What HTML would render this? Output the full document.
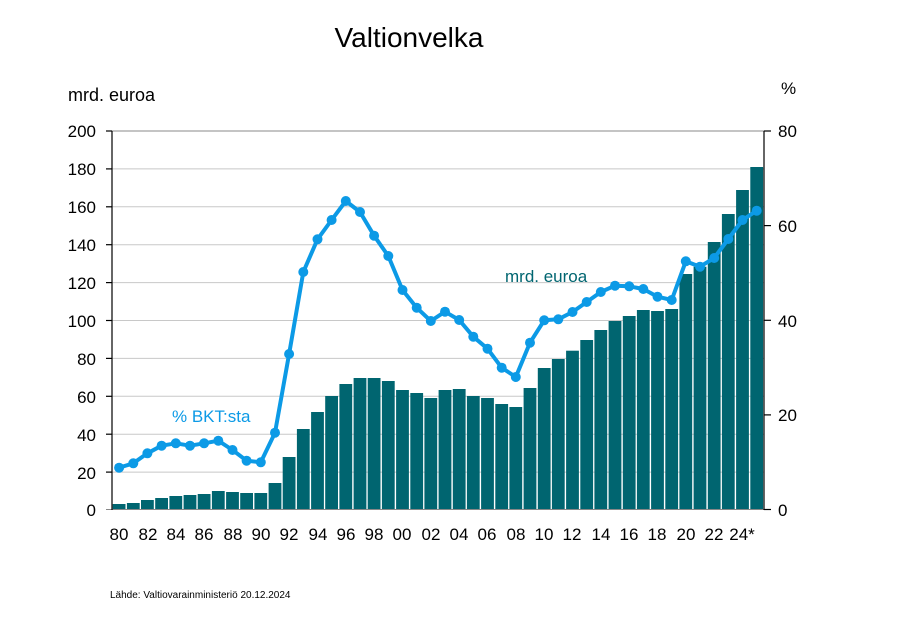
<!DOCTYPE html>
<html><head><meta charset="utf-8"><style>
html,body{margin:0;padding:0;background:#fff;}
svg text{font-family:"Liberation Sans",Arial,sans-serif;}
</style></head><body>
<svg width="899" height="612" viewBox="0 0 899 612" xmlns="http://www.w3.org/2000/svg">
<rect width="899" height="612" fill="#fff"/>
<text x="409" y="47" font-size="28" text-anchor="middle" fill="#000">Valtionvelka</text>
<text x="68" y="101" font-size="18" fill="#000">mrd. euroa</text>
<text x="781" y="94" font-size="17" fill="#000">%</text>
<g stroke="#c8c8c8" stroke-width="1">
<line x1="112" x2="764" y1="168.9" y2="168.9"/><line x1="112" x2="764" y1="206.8" y2="206.8"/>
<line x1="112" x2="764" y1="244.7" y2="244.7"/><line x1="112" x2="764" y1="282.6" y2="282.6"/>
<line x1="112" x2="764" y1="320.5" y2="320.5"/><line x1="112" x2="764" y1="358.4" y2="358.4"/>
<line x1="112" x2="764" y1="396.3" y2="396.3"/><line x1="112" x2="764" y1="434.2" y2="434.2"/>
<line x1="112" x2="764" y1="472.1" y2="472.1"/>
</g>
<line x1="112" x2="764" y1="131" y2="131" stroke="#888" stroke-width="1"/>
<g fill="#006570">
<rect x="112.7" y="504" width="12.8" height="5.5"/>
<rect x="126.9" y="503" width="12.8" height="6.5"/>
<rect x="141" y="500" width="12.8" height="9.5"/>
<rect x="155.2" y="498" width="12.8" height="11.5"/>
<rect x="169.4" y="496" width="12.8" height="13.5"/>
<rect x="183.6" y="495" width="12.8" height="14.5"/>
<rect x="197.7" y="494" width="12.8" height="15.5"/>
<rect x="211.9" y="491" width="12.8" height="18.5"/>
<rect x="226.1" y="492" width="12.8" height="17.5"/>
<rect x="240.2" y="493" width="12.8" height="16.5"/>
<rect x="254.4" y="493" width="12.8" height="16.5"/>
<rect x="268.6" y="483" width="12.8" height="26.5"/>
<rect x="282.7" y="457" width="12.8" height="52.5"/>
<rect x="296.9" y="429" width="12.8" height="80.5"/>
<rect x="311.1" y="412" width="12.8" height="97.5"/>
<rect x="325.2" y="396" width="12.8" height="113.5"/>
<rect x="339.4" y="384" width="12.8" height="125.5"/>
<rect x="353.6" y="378" width="12.8" height="131.5"/>
<rect x="367.7" y="378" width="12.8" height="131.5"/>
<rect x="381.9" y="381" width="12.8" height="128.5"/>
<rect x="396.1" y="390" width="12.8" height="119.5"/>
<rect x="410.3" y="393" width="12.8" height="116.5"/>
<rect x="424.4" y="398" width="12.8" height="111.5"/>
<rect x="438.6" y="390" width="12.8" height="119.5"/>
<rect x="452.8" y="389" width="12.8" height="120.5"/>
<rect x="466.9" y="396" width="12.8" height="113.5"/>
<rect x="481.1" y="398" width="12.8" height="111.5"/>
<rect x="495.3" y="404" width="12.8" height="105.5"/>
<rect x="509.4" y="407" width="12.8" height="102.5"/>
<rect x="523.6" y="388" width="12.8" height="121.5"/>
<rect x="537.8" y="368" width="12.8" height="141.5"/>
<rect x="551.9" y="359" width="12.8" height="150.5"/>
<rect x="566.1" y="350.7" width="12.8" height="158.8"/>
<rect x="580.3" y="340" width="12.8" height="169.5"/>
<rect x="594.4" y="330" width="12.8" height="179.5"/>
<rect x="608.6" y="321" width="12.8" height="188.5"/>
<rect x="622.8" y="316" width="12.8" height="193.5"/>
<rect x="636.9" y="310" width="12.8" height="199.5"/>
<rect x="651.1" y="311" width="12.8" height="198.5"/>
<rect x="665.3" y="309" width="12.8" height="200.5"/>
<rect x="679.4" y="274" width="12.8" height="235.5"/>
<rect x="693.6" y="266.7" width="12.8" height="242.8"/>
<rect x="707.8" y="242" width="12.8" height="267.5"/>
<rect x="721.9" y="214" width="12.8" height="295.5"/>
<rect x="736.1" y="190" width="12.8" height="319.5"/>
<rect x="750.3" y="167" width="12.8" height="342.5"/>
</g>
<line x1="106" x2="764" y1="509.5" y2="509.5" stroke="#888" stroke-width="1"/>
<g stroke="#000" stroke-width="1.2">
<line x1="112" x2="112" y1="131" y2="510"/>
<line x1="106" x2="112" y1="131" y2="131"/><line x1="106" x2="112" y1="168.9" y2="168.9"/>
<line x1="106" x2="112" y1="206.8" y2="206.8"/><line x1="106" x2="112" y1="244.7" y2="244.7"/>
<line x1="106" x2="112" y1="282.6" y2="282.6"/><line x1="106" x2="112" y1="320.5" y2="320.5"/>
<line x1="106" x2="112" y1="358.4" y2="358.4"/><line x1="106" x2="112" y1="396.3" y2="396.3"/>
<line x1="106" x2="112" y1="434.2" y2="434.2"/><line x1="106" x2="112" y1="472.1" y2="472.1"/>
<line x1="764" x2="764" y1="131" y2="510"/>
<line x1="764" x2="771" y1="131" y2="131"/><line x1="764" x2="771" y1="225.6" y2="225.6"/>
<line x1="764" x2="771" y1="320.3" y2="320.3"/><line x1="764" x2="771" y1="414.9" y2="414.9"/>
<line x1="764" x2="771" y1="509.5" y2="509.5"/>
</g>
<g font-size="17" fill="#000" text-anchor="end">
<text x="96" y="137">200</text><text x="96" y="175">180</text><text x="96" y="213">160</text>
<text x="96" y="251">140</text><text x="96" y="289">120</text><text x="96" y="327">100</text>
<text x="96" y="365">80</text><text x="96" y="403">60</text><text x="96" y="441">40</text>
<text x="96" y="479">20</text><text x="96" y="516">0</text>
</g>
<g font-size="17" fill="#000">
<text x="778" y="137">80</text><text x="778" y="232">60</text><text x="778" y="327">40</text>
<text x="778" y="421">20</text><text x="778" y="516">0</text>
</g>
<g font-size="17" fill="#000" text-anchor="middle">
<text x="119" y="540">80</text><text x="148" y="540">82</text><text x="176" y="540">84</text>
<text x="204" y="540">86</text><text x="233" y="540">88</text><text x="261" y="540">90</text>
<text x="289" y="540">92</text><text x="318" y="540">94</text><text x="346" y="540">96</text>
<text x="374" y="540">98</text><text x="402" y="540">00</text><text x="431" y="540">02</text>
<text x="459" y="540">04</text><text x="487" y="540">06</text><text x="516" y="540">08</text>
<text x="544" y="540">10</text><text x="572" y="540">12</text><text x="601" y="540">14</text>
<text x="629" y="540">16</text><text x="657" y="540">18</text><text x="686" y="540">20</text>
<text x="714" y="540">22</text><text x="742" y="540">24*</text>
</g>
<polyline fill="none" stroke="#0c9ae6" stroke-width="4" stroke-linejoin="round" points="119.1,467.7 133.3,463.3 147.4,453.3 161.6,445.7 175.8,443.3 190,445.7 204.1,443.3 218.3,440.7 232.5,450 246.6,460.7 260.8,462.3 275,432.7 289.1,354 303.3,272 317.5,239.3 331.6,220 345.8,201 360,212 374.1,235.7 388.3,256 402.5,290 416.7,307.7 430.8,321 445,311.7 459.2,320 473.3,336.7 487.5,348.7 501.7,367.7 515.8,377 530,342.7 544.2,320.3 558.3,319.3 572.5,312 586.7,302 600.8,292 615,285.7 629.2,286.3 643.3,289 657.5,296.7 671.7,300 685.8,261.3 700,266.7 714.2,258 728.3,239 742.5,220 756.7,210.7"/>
<g fill="#0c9ae6">
<circle cx="119.1" cy="467.7" r="5"/><circle cx="133.3" cy="463.3" r="5"/><circle cx="147.4" cy="453.3" r="5"/>
<circle cx="161.6" cy="445.7" r="5"/><circle cx="175.8" cy="443.3" r="5"/><circle cx="190" cy="445.7" r="5"/>
<circle cx="204.1" cy="443.3" r="5"/><circle cx="218.3" cy="440.7" r="5"/><circle cx="232.5" cy="450" r="5"/>
<circle cx="246.6" cy="460.7" r="5"/><circle cx="260.8" cy="462.3" r="5"/><circle cx="275" cy="432.7" r="5"/>
<circle cx="289.1" cy="354" r="5"/><circle cx="303.3" cy="272" r="5"/><circle cx="317.5" cy="239.3" r="5"/>
<circle cx="331.6" cy="220" r="5"/><circle cx="345.8" cy="201" r="5"/><circle cx="360" cy="212" r="5"/>
<circle cx="374.1" cy="235.7" r="5"/><circle cx="388.3" cy="256" r="5"/><circle cx="402.5" cy="290" r="5"/>
<circle cx="416.7" cy="307.7" r="5"/><circle cx="430.8" cy="321" r="5"/><circle cx="445" cy="311.7" r="5"/>
<circle cx="459.2" cy="320" r="5"/><circle cx="473.3" cy="336.7" r="5"/><circle cx="487.5" cy="348.7" r="5"/>
<circle cx="501.7" cy="367.7" r="5"/><circle cx="515.8" cy="377" r="5"/><circle cx="530" cy="342.7" r="5"/>
<circle cx="544.2" cy="320.3" r="5"/><circle cx="558.3" cy="319.3" r="5"/><circle cx="572.5" cy="312" r="5"/>
<circle cx="586.7" cy="302" r="5"/><circle cx="600.8" cy="292" r="5"/><circle cx="615" cy="285.7" r="5"/>
<circle cx="629.2" cy="286.3" r="5"/><circle cx="643.3" cy="289" r="5"/><circle cx="657.5" cy="296.7" r="5"/>
<circle cx="671.7" cy="300" r="5"/><circle cx="685.8" cy="261.3" r="5"/><circle cx="700" cy="266.7" r="5"/>
<circle cx="714.2" cy="258" r="5"/><circle cx="728.3" cy="239" r="5"/><circle cx="742.5" cy="220" r="5"/>
<circle cx="756.7" cy="210.7" r="5"/>
</g>
<text x="172" y="422" font-size="17" fill="#0c9ae6">% BKT:sta</text>
<text x="505" y="282" font-size="17" fill="#006570">mrd. euroa</text>
<text x="110" y="598" font-size="10" fill="#000">Lähde: Valtiovarainministeriö 20.12.2024</text>
</svg>
</body></html>
